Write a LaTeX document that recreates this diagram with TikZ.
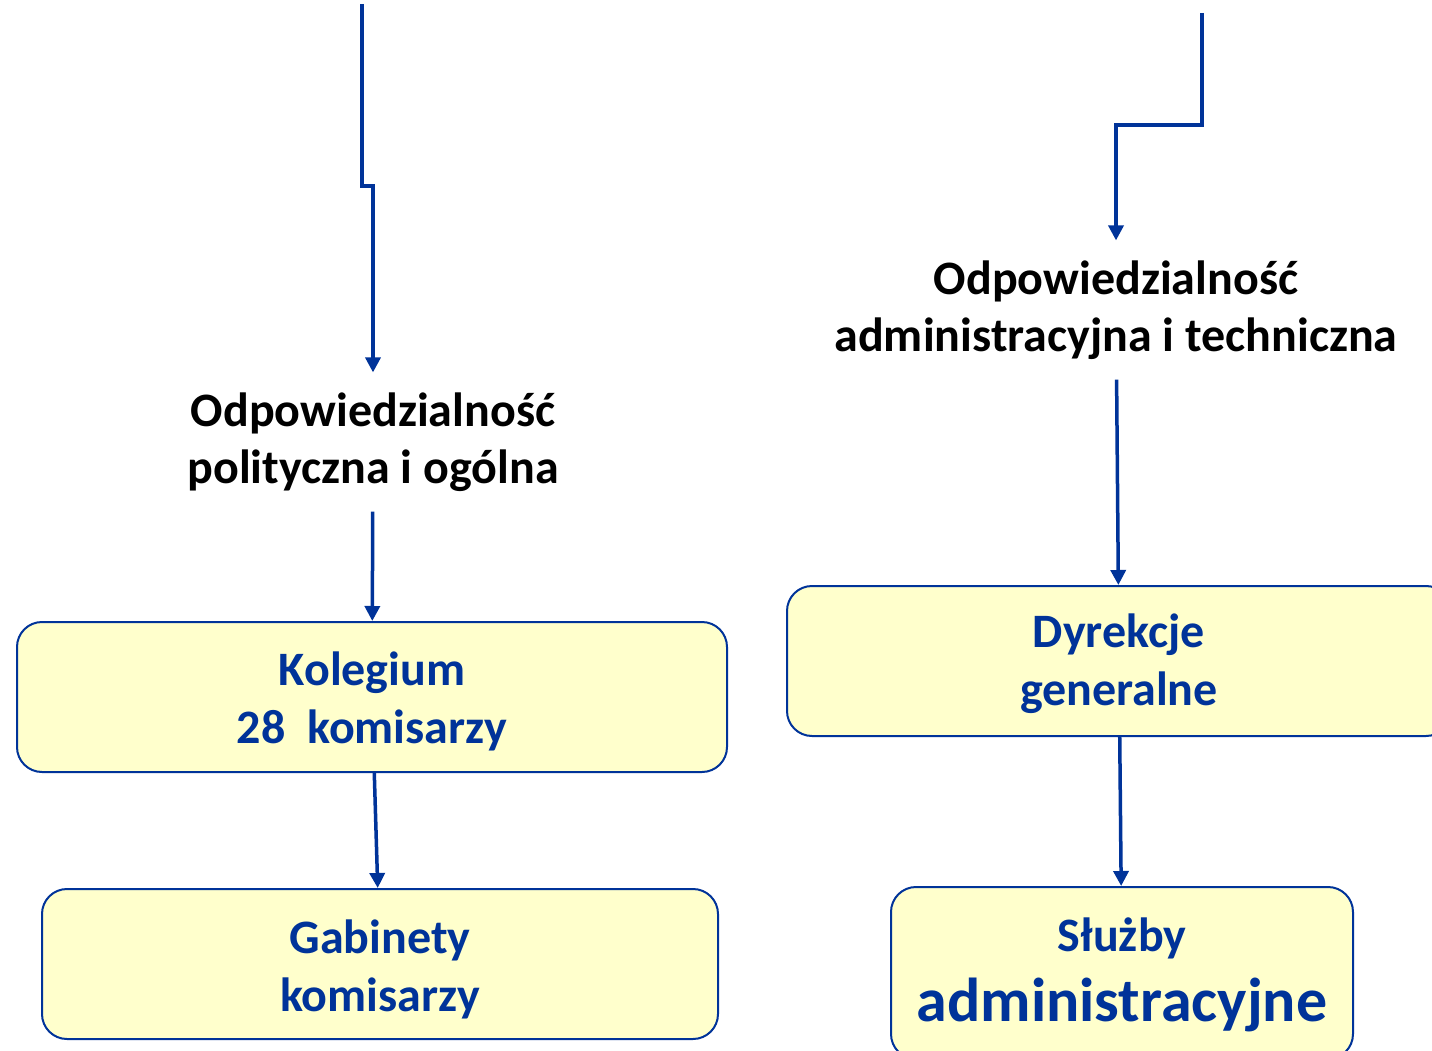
\documentclass[tikz,border=0pt]{standalone}
\usepackage{fontspec}
\setmainfont{Carlito}
\usetikzlibrary{arrows.meta}
\definecolor{ecblue}{HTML}{003399}
\definecolor{boxfill}{HTML}{FFFFCC}

\begin{document}
\begin{tikzpicture}[x=1pt, y=-1pt,
    resp/.style={align=center, inner xsep=0pt, inner ysep=20pt,
                 font=\fontsize{48}{57}\selectfont\bfseries},
    unit/.style={draw=ecblue, line width=2pt, fill=boxfill, rounded corners=25pt,
                 minimum height=150pt},
    unittext/.style={align=center, text=ecblue,
                     font=\fontsize{48}{58}\selectfont\bfseries},
    link/.style={ecblue, line width=3.5pt, -{Triangle[length=15pt,width=15pt]}}]
    \useasboundingbox (0,0) rectangle (1432,1051);
    \clip (0,0) rectangle (1432,1051);

    % political side
    \coordinate (topL) at (362,4);
    \node[resp] (polit) at (373,442) {Odpowiedzialność\\polityczna i ogólna};
    \node[unit, minimum width=710pt] (kol) at (372,697) {};
    \node[unittext] (kolT) at (372,701) {Kolegium\\28\ \ komisarzy};
    \node[unit, minimum width=676pt] (gab) at (380,964) {};
    \node[unittext] (gabT) at (380,969) {Gabinety\\komisarzy};

    % administrative side
    \coordinate (topR) at (1202,13);
    \node[resp] (admin) at (1116,310) {Odpowiedzialność\\administracyjna i techniczna};
    \node[unit, minimum width=664pt] (dyr) at (1119,661) {};
    \node[unittext] (dyrT) at (1119,664) {Dyrekcje\\generalne};
    \node[unit, minimum width=462pt, minimum height=172pt] (sluz) at (1122,973) {};
    \node[unittext, font=\fontsize{48}{70}\selectfont\bfseries] (sluzT) at (1122,975)
        {Służby\\{\fontsize{62}{70}\selectfont administracyjne}};

    \draw[link] (topL) -- ++(0,182) -| (polit.north);
    \draw[link] (topR) -- ++(0,112) -| (admin.north);
    \draw[link] (polit) -- (kol);
    \draw[link] (kol) -- (gab);
    \draw[link] (admin) -- (dyr);
    \draw[link] (dyr) -- (sluz);
\end{tikzpicture}
\end{document}
